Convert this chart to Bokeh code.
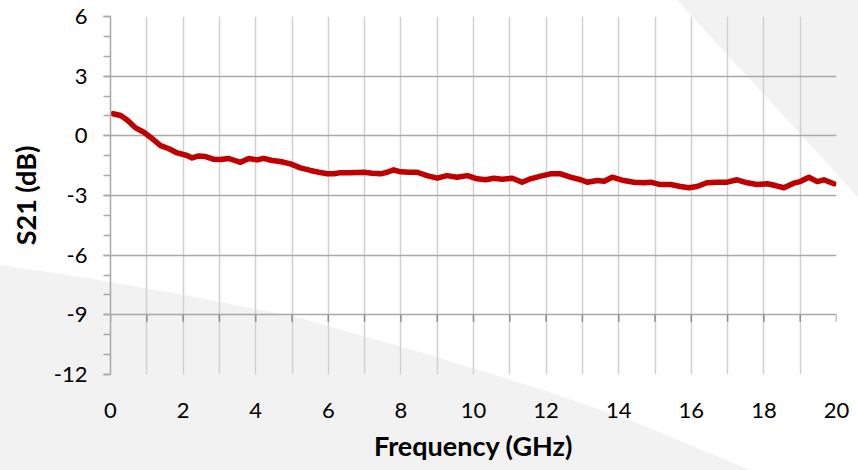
from urllib.parse import quote
from bokeh.plotting import figure
from bokeh.models import Range1d, FixedTicker
from bokeh.embed import file_html
from bokeh.resources import INLINE

# ---- data ----
freq_ghz = [0.07, 0.28, 0.46, 0.69, 0.92, 1.10, 1.38, 1.61, 1.84, 2.11, 2.25, 2.43,
            2.62, 2.85, 3.03, 3.26, 3.58, 3.81, 4.04, 4.22, 4.45, 4.68, 4.96, 5.23,
            5.51, 5.74, 5.97, 6.15, 6.34, 6.57, 6.80, 6.98, 7.21, 7.44, 7.62, 7.80,
            7.99, 8.22, 8.45, 8.72, 9.00, 9.27, 9.55, 9.83, 10.10, 10.33, 10.56,
            10.79, 11.07, 11.34, 11.57, 11.85, 12.12, 12.40, 12.67, 12.95, 13.13,
            13.41, 13.60, 13.82, 14.14, 14.42, 14.69, 14.88, 15.15, 15.43, 15.70,
            15.93, 16.16, 16.43, 16.71, 16.99, 17.26, 17.54, 17.81, 18.09, 18.32,
            18.55, 18.82, 19.00, 19.24, 19.47, 19.65, 19.93]
s21_db = [1.11, 1.02, 0.80, 0.40, 0.18, -0.07, -0.49, -0.65, -0.86, -0.99, -1.11, -1.01,
          -1.04, -1.18, -1.19, -1.14, -1.33, -1.14, -1.21, -1.13, -1.24, -1.29, -1.41, -1.61,
          -1.74, -1.83, -1.91, -1.91, -1.85, -1.85, -1.84, -1.83, -1.88, -1.91, -1.83, -1.71,
          -1.81, -1.83, -1.83, -2.00, -2.13, -2.00, -2.08, -2.00, -2.16, -2.21, -2.13,
          -2.18, -2.13, -2.33, -2.16, -2.03, -1.91, -1.91, -2.08, -2.21, -2.33,
          -2.25, -2.28, -2.08, -2.25, -2.33, -2.36, -2.33, -2.45, -2.45, -2.55,
          -2.61, -2.55, -2.36, -2.33, -2.33, -2.21, -2.36, -2.45, -2.41, -2.50,
          -2.61, -2.38, -2.30, -2.08, -2.30, -2.21, -2.41]

x_label_ticks = [0, 2, 4, 6, 8, 10, 12, 14, 16, 18, 20]
x_grid_ticks = list(range(0, 21))
y_major_ticks = [-12, -9, -6, -3, 0, 3, 6]
y_tick_labels = ["-12", "-9", "-6", "-3", "0", "3", "6"]
y_minor_ticks = list(range(-12, 7))
x_axis_cross = -9

FONT = "Lato"
W, H = 858, 470

p = figure(width=W, height=H, x_range=Range1d(0, 20), y_range=Range1d(-12, 6),
           output_backend="svg", toolbar_location=None,
           min_border_left=110, min_border_right=22, min_border_top=16, min_border_bottom=96)
p.outline_line_color = None
p.background_fill_color = None
p.border_fill_color = None

# decorative light-grey shapes behind the chart (page background)
bg_svg = (
    f"<svg xmlns='http://www.w3.org/2000/svg' width='{W}' height='{H}'>"
    "<rect width='100%' height='100%' fill='white'/>"
    "<polygon points='677,0 870,0 870,210' fill='#f2f2f2'/>"
    "<polygon points='0,265 100,280 200,298 300,318 420,352 543,390 630,420 750,470 0,470' fill='#f2f2f2'/>"
    "</svg>"
)
p.styles = {"background-image": f'url("data:image/svg+xml;charset=utf-8,{quote(bg_svg)}")',
            "background-repeat": "no-repeat",
            "background-size": f"{W}px {H}px"}

# grids
p.xgrid.ticker = FixedTicker(ticks=x_grid_ticks)
p.xgrid.grid_line_color = "#d0d0d0"
p.xgrid.grid_line_width = 1.5
p.ygrid.ticker = FixedTicker(ticks=y_major_ticks)
p.ygrid.grid_line_color = "#a9a9a9"
p.ygrid.grid_line_width = 1.5

# x axis: labels only, the axis line is the -9 gridline
p.xaxis.ticker = FixedTicker(ticks=x_label_ticks)
p.xaxis.axis_line_color = None
p.xaxis.major_tick_line_color = None
p.xaxis.minor_tick_line_color = None
p.xaxis.major_label_standoff = 22
p.xaxis.axis_label = "Frequency (GHz)"
p.xaxis.axis_label_standoff = 8

# y axis
p.yaxis.ticker = FixedTicker(ticks=y_major_ticks, minor_ticks=y_minor_ticks)
p.yaxis.major_label_overrides = dict(zip(y_major_ticks, y_tick_labels))
p.yaxis.axis_line_color = "#a9a9a9"
p.yaxis.axis_line_width = 1.5
p.yaxis.major_tick_line_color = "#a9a9a9"
p.yaxis.major_tick_line_width = 1.5
p.yaxis.major_tick_in = 0
p.yaxis.major_tick_out = 7
p.yaxis.minor_tick_line_color = "#a9a9a9"
p.yaxis.minor_tick_line_width = 1.5
p.yaxis.minor_tick_in = 0
p.yaxis.minor_tick_out = 7
p.yaxis.major_label_standoff = 16
p.yaxis.axis_label = "S21 (dB)"
p.yaxis.axis_label_standoff = 9

for ax in (p.xaxis[0], p.yaxis[0]):
    ax.major_label_text_font = FONT
    ax.major_label_text_font_size = "22px"
    ax.major_label_text_color = "black"
    ax.axis_label_text_font = FONT
    ax.axis_label_text_font_size = "27px"
    ax.axis_label_text_font_style = "bold"
    ax.axis_label_text_color = "black"

# tick marks on the horizontal axis line at y = -9
p.segment(x0=x_grid_ticks, y0=[x_axis_cross] * len(x_grid_ticks),
          x1=x_grid_ticks, y1=[x_axis_cross - 0.35] * len(x_grid_ticks),
          line_color="#8c8c8c", line_width=1.5)

p.line(freq_ghz, s21_db, line_color="#c00000", line_width=5.5,
       line_join="round", line_cap="round")

open("out.html", "w").write(file_html(p, INLINE))
